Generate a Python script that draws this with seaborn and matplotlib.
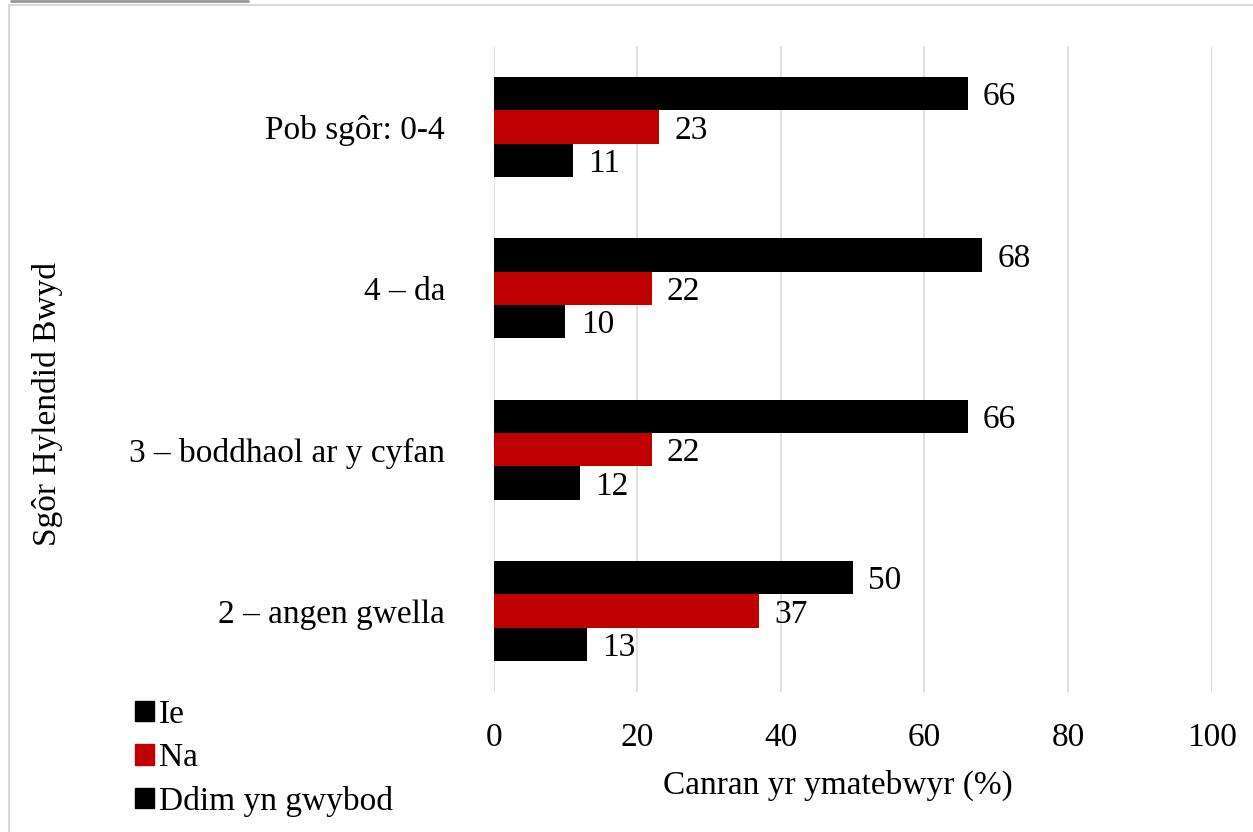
import matplotlib
matplotlib.use("Agg")
import matplotlib.pyplot as plt
import matplotlib.patches as mpatches
from matplotlib.lines import Line2D
import pandas as pd
import seaborn as sns

categories = ["Pob sgôr: 0-4", "4 – da", "3 – boddhaol ar y cyfan", "2 – angen gwella"]
series_names = ["Ie", "Na", "Ddim yn gwybod"]
ie_values = [66, 68, 66, 50]
na_values = [23, 22, 22, 37]
ddim_values = [11, 10, 12, 13]
x_ticks = [0, 20, 40, 60, 80, 100]
colors = ["#000000", "#C00000", "#000000"]

rows = []
for name, vals in zip(series_names, [ie_values, na_values, ddim_values]):
    for cat, v in zip(categories, vals):
        rows.append({"cat": cat, "series": name, "value": v})
df = pd.DataFrame(rows)

sns.set_style("white")
plt.rcParams["font.family"] = ["Liberation Serif", "DejaVu Serif"]
plt.rcParams["text.color"] = "black"
plt.rcParams["xtick.color"] = "black"
plt.rcParams["ytick.color"] = "black"
plt.rcParams["axes.labelcolor"] = "black"
FS = 24

fig = plt.figure(figsize=(12.53, 8.32), dpi=100)
ax = fig.add_axes([0.394, 0.1685, 0.573, 0.776])

sns.barplot(
    data=df, y="cat", x="value", hue="series", order=categories,
    hue_order=series_names, palette=colors, orient="h", width=0.62,
    saturation=1, ax=ax, legend=False, errorbar=None, linewidth=0,
)
for c in ax.containers:
    for t in ax.bar_label(c, padding=11, fontsize=FS):
        t.set_va("center_baseline")

ax.set_xlim(0, 100)
ax.set_ylim(3.5, -0.5)
ax.set_xticks(x_ticks)
ax.tick_params(axis="x", labelsize=FS, length=0, pad=22)
ax.tick_params(axis="y", labelsize=FS, length=0, pad=35)
ax.grid(axis="x", color="#d9d9d9", linewidth=1.2)
ax.set_axisbelow(True)
for s in ax.spines.values():
    s.set_visible(False)
ax.set_xlabel("Canran yr ymatebwyr (%)", fontsize=FS, labelpad=10)
ax.xaxis.set_label_coords(0.48, -0.12)
ax.set_ylabel("")
fig.text(0.038, 0.515, "Sgôr Hylendid Bwyd", rotation=90, fontsize=FS,
         ha="center", va="center")

handles = [mpatches.Patch(color=c, label=n) for c, n in zip(colors, series_names)]
fig.legend(handles=handles, loc="lower left", bbox_to_anchor=(0.084, -0.018),
           frameon=False, fontsize=FS, handlelength=0.55, handleheight=0.55,
           handletextpad=0.15, labelspacing=0.38)

fig.patches.append(mpatches.Rectangle((0.007, -0.01), 1.0, 1.004,
                                      transform=fig.transFigure, fill=False,
                                      edgecolor="#d9d9d9", linewidth=1.5))
fig.lines.append(Line2D([0.009, 0.198], [0.999, 0.999], transform=fig.transFigure,
                        color="#999999", linewidth=2))

fig.savefig("out.png", dpi=100)
